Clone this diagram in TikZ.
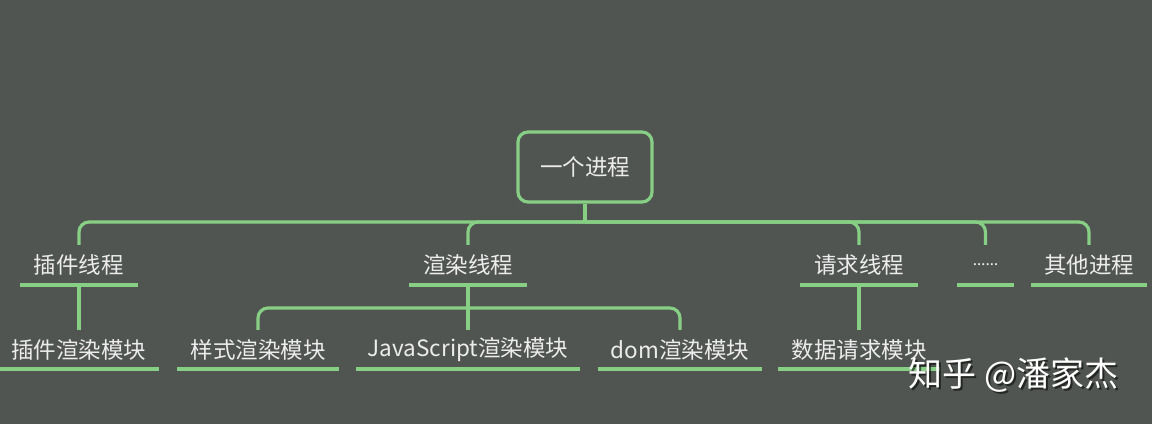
\documentclass[tikz,border=0pt]{standalone}
\usepackage{fontspec}
\setmainfont{Noto Sans CJK SC}
\newfontfamily\latinf{Noto Sans}
\definecolor{bgc}{RGB}{81,85,81}
\definecolor{lnc}{RGB}{134,207,132}
\definecolor{txc}{RGB}{236,236,236}
\tikzset{
  edge/.style={draw=lnc, line width=3.2pt, rounded corners=10pt},
  uline/.style={draw=lnc, line width=4pt},
  lbl/.style={text=txc, font=\fontsize{22.5}{26}\selectfont, inner sep=0pt, minimum height=40pt},
  rootbox/.style={draw=lnc, line width=3.2pt, rounded corners=10pt, text=txc,
    font=\fontsize{22.5}{26}\selectfont, minimum width=134pt, minimum height=70pt, inner sep=0pt},
  wm/.style={font=\fontsize{34}{38}\selectfont, inner sep=0pt}
}
\begin{document}
\begin{tikzpicture}[x=1pt,y=-1pt]
\fill[bgc] (0,0) rectangle (1152,424);
\useasboundingbox (0,0) rectangle (1152,424);

\node[rootbox] (root) at (585,167) {一个进程};
\coordinate (j1) at (585,222);

% level 1
\node[lbl, minimum width=117pt] (p1) at (79,265) {插件线程};
\node[lbl, minimum width=117pt] (p2) at (468,265) {渲染线程};
\node[lbl, minimum width=117pt] (p3) at (859,265) {请求线程};
\node[lbl, minimum width=57pt]  (p4) at (985.5,265) {\latinf\fontsize{16}{20}\selectfont ……};
\node[lbl, minimum width=116pt] (p5) at (1089,265) {其他进程};

% level 2
\node[lbl, minimum width=160pt, minimum height=39pt] (c1) at (79,349.5) {插件渲染模块};
\node[lbl, minimum width=162pt, minimum height=39pt] (c2) at (258,349.5) {样式渲染模块};
\node[lbl, minimum width=224pt, minimum height=39pt] (c3) at (468,349.5) {JavaScript渲染模块};
\node[lbl, minimum width=164pt, minimum height=39pt] (c4) at (680,349.5) {dom渲染模块};
\node[lbl, minimum width=161pt, minimum height=39pt] (c5) at (859,349.5) {数据请求模块};
\coordinate (j2) at (468,308);

% connectors
\draw[edge] (root.south) -- (j1);
\foreach \n in {p1,p2,p3,p4,p5} {\draw[edge] (j1) -| (\n.north);}
\draw[edge] (p1.south) -- (c1.north);
\draw[edge] (p2.south) -- (c3.north);
\draw[edge] (j2) -| (c2.north);
\draw[edge] (j2) -| (c4.north);
\draw[edge] (p3.south) -- (c5.north);

% underlines
\foreach \n in {p1,p2,p3,p4,p5,c1,c2,c3,c4,c5} {\draw[uline] (\n.south west) -- (\n.south east);}

% watermark
\node[wm, text=black, opacity=0.55] (wms) at (1015.5,377) {知乎 @潘家杰};
\node[wm, text=white] (wmt) at (1013.5,375) {知乎 @潘家杰};
\end{tikzpicture}
\end{document}
